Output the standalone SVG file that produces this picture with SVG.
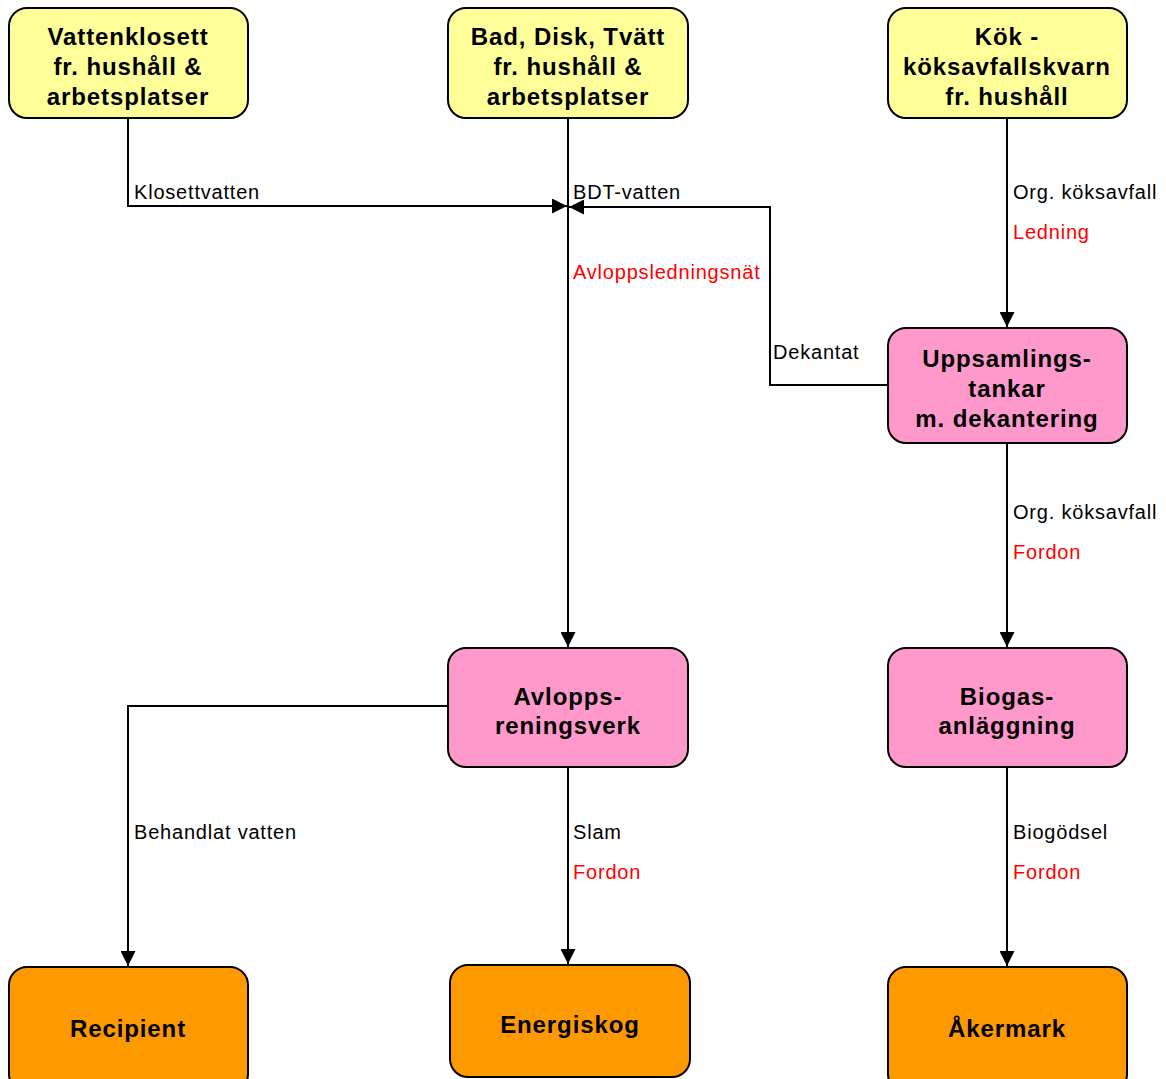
<svg xmlns="http://www.w3.org/2000/svg" width="1166" height="1079" viewBox="0 0 1166 1079">
<style>
.box{stroke:#000;stroke-width:2}
.y{fill:#FFFF99}.p{fill:#FF99CC}.o{fill:#FF9900}
.nt{font-family:"Liberation Sans",Arial,sans-serif;font-weight:bold;font-size:24px;letter-spacing:0.9px;text-anchor:middle;fill:#000}
.el{font-family:"Liberation Sans",Arial,sans-serif;font-size:20px;letter-spacing:0.8px;fill:#000}
.r{fill:#FF0000}
.c{fill:none;stroke:#000;stroke-width:2}
</style>
<defs>
<marker id="ah" viewBox="0 0 15 15" refX="15" refY="7.5" markerWidth="15" markerHeight="15" markerUnits="userSpaceOnUse" orient="auto">
<path d="M0,0 L15,7.5 L0,15 Z" fill="#000"/>
</marker>
</defs>
<g id="connectors">
<path class="c" d="M128,118 V206 H567" marker-end="url(#ah)"/>
<path class="c" d="M568,118 V647" marker-end="url(#ah)"/>
<path class="c" d="M888,385 H770 V207 H569" marker-end="url(#ah)"/>
<path class="c" d="M1007,118 V327" marker-end="url(#ah)"/>
<path class="c" d="M1007,443 V647" marker-end="url(#ah)"/>
<path class="c" d="M448,706 H128 V966" marker-end="url(#ah)"/>
<path class="c" d="M568,767 V964" marker-end="url(#ah)"/>
<path class="c" d="M1007,767 V966" marker-end="url(#ah)"/>
<text class="el" x="134" y="199">Klosettvatten</text>
<text class="el" x="573" y="199">BDT-vatten</text>
<text class="el r" x="573" y="279">Avloppsledningsnät</text>
<text class="el" x="773" y="359">Dekantat</text>
<text class="el" x="1013" y="199">Org. köksavfall</text>
<text class="el r" x="1013" y="239">Ledning</text>
<text class="el" x="1013" y="519">Org. köksavfall</text>
<text class="el r" x="1013" y="559">Fordon</text>
<text class="el" x="134" y="839">Behandlat vatten</text>
<text class="el" x="573" y="839">Slam</text>
<text class="el r" x="573" y="879">Fordon</text>
<text class="el" x="1013" y="839">Biogödsel</text>
<text class="el r" x="1013" y="879">Fordon</text>
</g>
<g id="n-vattenklosett">
<rect class="box y" x="9" y="8" width="239" height="110" rx="18"/>
<text class="nt" x="128" y="45">Vattenklosett</text>
<text class="nt" x="128" y="75">fr. hushåll &amp;</text>
<text class="nt" x="128" y="105">arbetsplatser</text>
</g>
<g id="n-bdt">
<rect class="box y" x="448" y="8" width="240" height="110" rx="18"/>
<text class="nt" x="568" y="45">Bad, Disk, Tvätt</text>
<text class="nt" x="568" y="75">fr. hushåll &amp;</text>
<text class="nt" x="568" y="105">arbetsplatser</text>
</g>
<g id="n-kok">
<rect class="box y" x="888" y="8" width="239" height="110" rx="18"/>
<text class="nt" x="1007" y="45">Kök -</text>
<text class="nt" x="1007" y="75">köksavfallskvarn</text>
<text class="nt" x="1007" y="105">fr. hushåll</text>
</g>
<g id="n-uppsamling">
<rect class="box p" x="888" y="328" width="239" height="115" rx="18"/>
<text class="nt" x="1007" y="367">Uppsamlings-</text>
<text class="nt" x="1007" y="397">tankar</text>
<text class="nt" x="1007" y="427">m. dekantering</text>
</g>
<g id="n-avlopp">
<rect class="box p" x="448" y="648" width="240" height="119" rx="18"/>
<text class="nt" x="568" y="705">Avlopps-</text>
<text class="nt" x="568" y="734">reningsverk</text>
</g>
<g id="n-biogas">
<rect class="box p" x="888" y="648" width="239" height="119" rx="18"/>
<text class="nt" x="1007" y="705">Biogas-</text>
<text class="nt" x="1007" y="734">anläggning</text>
</g>
<g id="n-recipient">
<rect class="box o" x="9" y="967" width="239" height="125" rx="18"/>
<text class="nt" x="128" y="1037">Recipient</text>
</g>
<g id="n-energiskog">
<rect class="box o" x="450" y="965" width="240" height="112" rx="18"/>
<text class="nt" x="570" y="1033">Energiskog</text>
</g>
<g id="n-akermark">
<rect class="box o" x="888" y="967" width="239" height="125" rx="18"/>
<text class="nt" x="1007" y="1037">Åkermark</text>
</g>
</svg>
